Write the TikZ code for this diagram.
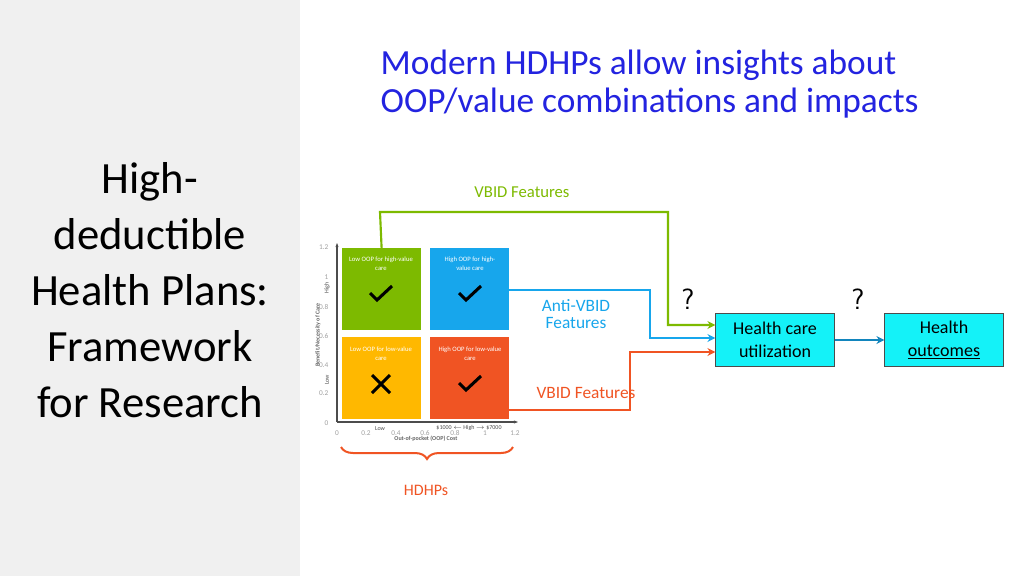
\documentclass[tikz,border=0pt]{standalone}
\usepackage{fontspec}
\setmainfont{Carlito}
\usetikzlibrary{decorations.pathreplacing,arrows.meta}
\definecolor{gq}{HTML}{7DBA00}\definecolor{bq}{HTML}{17A6EC}
\definecolor{yq}{HTML}{FFB800}\definecolor{rq}{HTML}{F05423}
\definecolor{ttl}{HTML}{2323E0}\definecolor{cy}{HTML}{14F2F8}
\definecolor{tk}{HTML}{A0A0A0}
\begin{document}
\begin{tikzpicture}[x=0.75pt,y=-0.75pt,
 sq/.style={minimum width=59pt,minimum height=61pt,inner sep=0pt,anchor=north west},
 sqt/.style={text=white,font=\fontsize{5}{6.5}\selectfont,align=center},
 tick/.style={text=tk,font=\fontsize{5.5}{6}\selectfont},
 hb/.style={draw=black!70,fill=cy,minimum width=89pt,minimum height=40pt,align=center,font=\fontsize{13.5}{17}\selectfont},
 con/.style={line width=1.6pt,-{Stealth[length=6pt,width=6pt]}}]
\useasboundingbox (0,0) rectangle (1024,576);
\fill[white] (0,0) rectangle (1024,576);
\fill[black!6] (0,0) rectangle (300,576);
\node[anchor=west,text=ttl,align=left,font=\fontsize{26.5}{29}\selectfont] (title) at (376,84) {Modern HDHPs allow insights about\\OOP/value combinations and impacts};
\node[align=center,font=\fontsize{33.5}{42}\selectfont] (lt) at (150,290) {High-\\deductible\\Health Plans:\\Framework\\for Research};
% chart
\fill[white] (334,243) rectangle (522,440);
\draw[black!70,line width=0.8pt,-{Stealth[length=3pt]}] (337,422) -- (337,243);
\draw[black!70,line width=0.8pt,-{Stealth[length=3pt]}] (337,422) -- (518,422);
\node[sq,fill=gq] (g) at (342,248) {};
\node[sq,fill=bq] (b) at (430,248) {};
\node[sq,fill=yq] (y) at (342,337) {};
\node[sq,fill=rq] (r) at (430,337) {};
\node[sqt] at (381,264) {Low OOP for high-value\\care};
\node[sqt] at (470,264) {High OOP for high-\\value care};
\node[sqt] at (381,354) {Low OOP for low-value\\care};
\node[sqt] at (470,354) {High OOP for low-value\\care};
\foreach \x/\yy in {381/295,470/295,470/385}{\draw[line width=2.3pt] (\x-11,\yy-2) -- (\x-4,\yy+5) -- (\x+11,\yy-9);}
\draw[line width=2.3pt] (372,375) -- (390,393) (390,375) -- (372,393);
\foreach \v/\yy in {1.2/247,1/277,0.8/307,0.6/336,0.4/365,0.2/393,0/423}{\node[tick,anchor=east] at (333,\yy) {\v};}
\foreach \v/\xx in {0/337,0.2/366,0.4/396,0.6/425,0.8/455,1/485,1.2/515}{\node[tick] at (\xx,433) {\v};}
\node[font=\fontsize{4.5}{5}\selectfont\bfseries,text=black!60] at (426,439) {Out-of-pocket (OOP) Cost};
\node[font=\fontsize{4.5}{5}\selectfont,text=black!70] at (380,429) {Low};
\node[font=\fontsize{4.5}{5}\selectfont,text=black!70] at (469,428) {\$1000 $\leftarrow$ High $\rightarrow$ \$7000};
\node[rotate=90,font=\fontsize{4.5}{5}\selectfont\bfseries,text=black!60] at (318,335) {Benefit/Necessity of Care};
\node[rotate=90,font=\fontsize{4.5}{5}\selectfont,text=black!70] at (327,288) {High};
\node[rotate=90,font=\fontsize{4.5}{5}\selectfont,text=black!70] at (327,380) {Low};
\draw[rq,line width=1.5pt,decorate,decoration={brace,mirror,amplitude=9pt}] (341,447) -- (513,447);
\node[text=rq,font=\fontsize{12}{14}\selectfont] (hd) at (426,490) {HDHPs};
% boxes
\node[hb] (hc) at (775,340) {Health care\\utilization};
\node[hb] (ho) at (944,340) {Health\\\underline{outcomes}};
\draw[con,draw=gq] (g.north) -- (380,212) -- (668,212) -- (668,325) -- (hc.west|-0,325);
\draw[con,draw=bq] (b.east|-0,290) -- (650,290) -- (650,338) -- (hc.west|-0,338);
\draw[con,draw=rq] (r.east|-0,410) -- (630,410) -- (630,352) -- (hc.west|-0,352);
\draw[con,draw=bq!80!black] (hc) -- (ho);
\node[text=gq,font=\fontsize{12.5}{14}\selectfont] at (522,192) {VBID Features};
\node[text=bq,align=center,font=\fontsize{13}{13}\selectfont] at (576,314) {Anti-VBID\\Features};
\node[text=rq,font=\fontsize{13}{14}\selectfont] at (586,393) {VBID Features};
\node[font=\sffamily\fontsize{22}{22}\selectfont] at (688,299) {?};
\node[font=\sffamily\fontsize{22}{22}\selectfont] at (858,299) {?};
\end{tikzpicture}
\end{document}
